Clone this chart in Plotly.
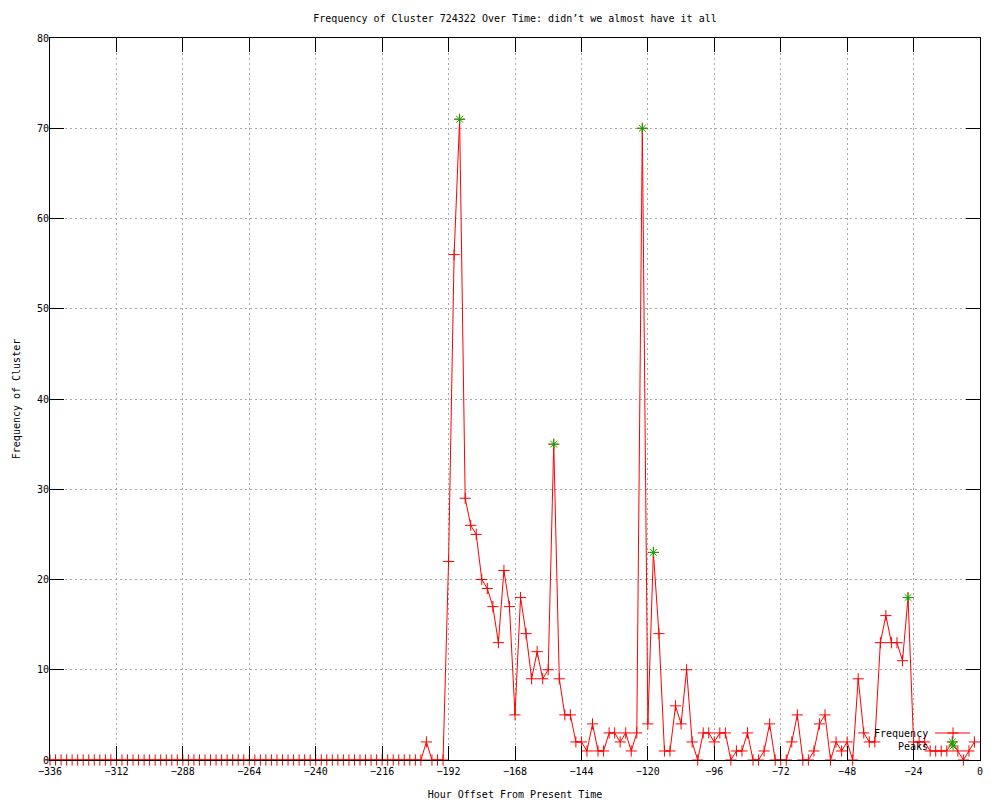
import plotly.graph_objects as go

# ---- data ----
hours = list(range(-336, 0, 2))
frequency = [
    0, 0, 0, 0, 0, 0, 0, 0, 0, 0, 0, 0, 0, 0, 0, 0, 0, 0, 0, 0,   # -336 .. -298
    0, 0, 0, 0, 0, 0, 0, 0, 0, 0, 0, 0, 0, 0, 0, 0, 0, 0, 0, 0,   # -296 .. -258
    0, 0, 0, 0, 0, 0, 0, 0, 0, 0, 0, 0, 0, 0, 0, 0, 0, 0, 0, 0,   # -256 .. -218
    0, 0, 0, 0, 0, 0, 0, 0,                                       # -216 .. -202
    2, 0, 0, 0, 22, 56, 71, 29, 26, 25, 20, 19, 17, 13, 21, 17,   # -200 .. -170
    5, 18, 14, 9, 12, 9, 10, 35, 9, 5, 5, 2, 2, 1, 4, 1,          # -168 .. -138
    1, 3, 3, 2, 3, 1, 3, 70, 4, 23, 14, 1, 1, 6, 4, 10,           # -136 .. -106
    2, 0, 3, 3, 2, 3, 3, 0, 1, 1, 3, 0, 0, 1, 4, 0,               # -104 .. -74
    0, 0, 2, 5, 0, 0, 1, 4, 5, 0, 2, 1, 2, 0, 9, 3,               # -72 .. -42
    2, 2, 13, 16, 13, 13, 11, 18, 2, 2, 2, 1, 1, 1, 1, 2,         # -40 .. -10
    1, 0, 1, 2,                                                   # -8 .. -2
]
peak_hours = [-188, -154, -122, -118, -26, -10]
peak_values = [71, 35, 70, 23, 18, 2]
x_ticks = list(range(-336, 1, 24))
y_ticks = list(range(0, 81, 10))

title_text = "Frequency of Cluster 724322 Over Time: didn\u2019t we almost have it all"
x_title = "Hour Offset From Present Time"
y_title = "Frequency of Cluster"
legend_labels = ["Frequency", "Peaks"]

FONT = "DejaVu Sans Mono"
RED = "#ff0000"
GREEN = "#00b000"

# plot-area geometry (pixels) used for the gnuplot-style key
L, R, T, B = 50, 980, 38, 760
W, H = R - L, B - T


def px(xp):
    return (xp - L) / W


def py(yp):
    return (B - yp) / H


fig = go.Figure()
fig.add_trace(go.Scatter(
    x=hours, y=frequency, mode="lines+markers", name=legend_labels[0],
    line=dict(color=RED, width=1),
    marker=dict(symbol="cross-thin", size=8, color=RED,
                line=dict(color=RED, width=1)),
    cliponaxis=False, showlegend=False,
))
fig.add_trace(go.Scatter(
    x=peak_hours, y=peak_values, mode="markers", name=legend_labels[1],
    marker=dict(symbol="asterisk", size=8, color=GREEN,
                line=dict(color=GREEN, width=1)),
    cliponaxis=False, showlegend=False,
))

# gnuplot-style key: text on the left, sample on the right
key_text_x = px(930)
key_rows = [py(733), py(746)]
fig.add_trace(go.Scatter(
    x=[px(935), px(953), px(970)], y=[key_rows[0]] * 3,
    mode="lines", line=dict(color=RED, width=1),
    xaxis="x2", yaxis="y2", showlegend=False, hoverinfo="skip",
))
fig.add_trace(go.Scatter(
    x=[px(953)], y=[key_rows[0]], mode="markers",
    marker=dict(symbol="cross-thin", size=8, color=RED,
                line=dict(color=RED, width=1)),
    xaxis="x2", yaxis="y2", showlegend=False, hoverinfo="skip",
))
fig.add_trace(go.Scatter(
    x=[px(953)], y=[key_rows[1]], mode="markers",
    marker=dict(symbol="asterisk", size=8, color=GREEN,
                line=dict(color=GREEN, width=1)),
    xaxis="x2", yaxis="y2", showlegend=False, hoverinfo="skip",
))
for label, ky in zip(legend_labels, key_rows):
    fig.add_annotation(x=key_text_x, y=ky, xref="paper", yref="paper",
                       text=label, showarrow=False, xanchor="right",
                       yanchor="middle",
                       font=dict(family=FONT, size=10, color="black"))

axis_common = dict(
    showline=True, linecolor="black", linewidth=1, mirror="ticks",
    ticks="inside", ticklen=14, tickcolor="black", tickwidth=1,
    showgrid=True, gridcolor="#a8a8a8", griddash="2px,3px", gridwidth=1,
    zeroline=False, automargin=False,
    tickfont=dict(family=FONT, size=10, color="black"),
)

fig.update_layout(
    width=1000, height=800,
    margin=dict(l=L, r=1000 - R, t=T, b=800 - B),
    paper_bgcolor="white", plot_bgcolor="white",
    font=dict(family=FONT, size=10, color="black"),
    title=dict(text=title_text, x=0.5, xref="paper", xanchor="center",
               y=1 - 18 / 800, yref="container", yanchor="middle",
               font=dict(family=FONT, size=10, color="black")),
    xaxis=dict(range=[-336, 0], tickvals=x_ticks,
               title=dict(text=x_title, standoff=14,
                          font=dict(family=FONT, size=10, color="black")),
               ticklabelstandoff=2, **axis_common),
    yaxis=dict(range=[0, 80], tickvals=y_ticks,
               title=dict(text=y_title, standoff=14,
                          font=dict(family=FONT, size=10, color="black")),
               ticklabelstandoff=-2, **axis_common),
    xaxis2=dict(range=[0, 1], overlaying="x", visible=False, fixedrange=True),
    yaxis2=dict(range=[0, 1], overlaying="y", visible=False, fixedrange=True),
    showlegend=False,
)

fig.write_html(
    "out.html",
    config={"displayModeBar": False},
    post_script="document.body.style.margin='0';document.body.style.padding='0';",
)
